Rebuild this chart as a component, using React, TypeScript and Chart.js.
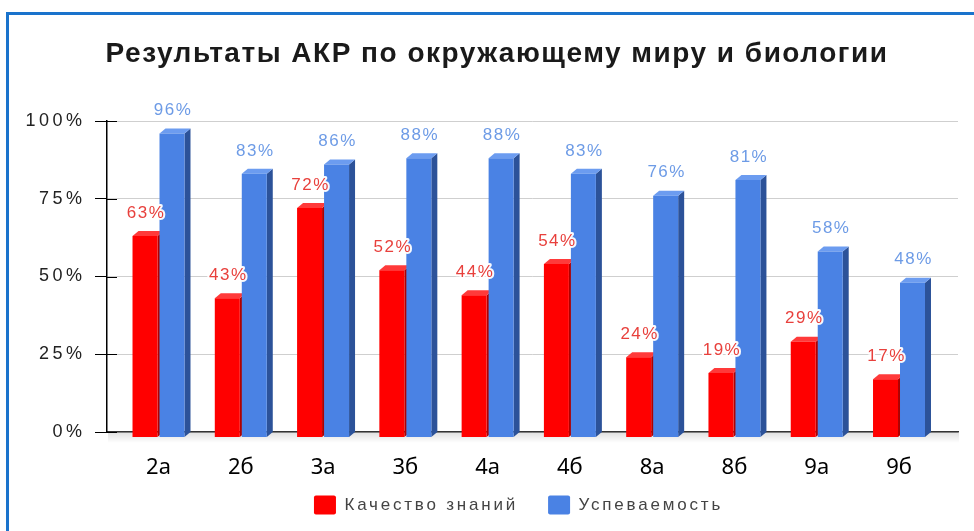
import React, { useEffect, useRef } from 'react';
import { Chart, registerables } from 'chart.js';

Chart.register(...registerables);

const titleText = 'Результаты АКР по окружающему миру и биологии';
const classes = ['2а', '2б', '3а', '3б', '4а', '4б', '8а', '8б', '9а', '9б'];
const seriesNames = ['Качество знаний', 'Успеваемость'];
const quality = [63, 43, 72, 52, 44, 54, 24, 19, 29, 17];
const progress = [96, 83, 86, 88, 88, 83, 76, 81, 58, 48];
const yTickValues = [0, 25, 50, 75, 100];

const frontColors = ['#ff0000', '#4a82e4'];
const sideColors = ['#b00000', '#2c5299'];
const topColors = ['#ff3a3a', '#6c9cf0'];
const labelColors = ['#e8403c', '#6d9be6'];

const DX = 6;
const DY = -5;
const LEGEND_SHIFT = -14;

function wrapSpacing(obj: any, method: string, spacing: string) {
  if (!obj || obj['__sp_' + method]) return;
  const orig = obj[method];
  obj[method] = function (...args: any[]) {
    const ctx = this.ctx || this.chart.ctx;
    const prev = ctx.letterSpacing;
    ctx.letterSpacing = spacing;
    const r = orig.apply(this, args);
    ctx.letterSpacing = prev;
    return r;
  };
  obj['__sp_' + method] = true;
}

const spacingPlugin = {
  id: 'spacing',
  beforeLayout(chart: any) { chart.ctx.letterSpacing = '2.8px'; },
  afterLayout(chart: any) {
    wrapSpacing(chart.titleBlock, 'draw', '1.5px');
    wrapSpacing(chart.legend, 'draw', '2.8px');
    wrapSpacing(chart.scales.y, 'drawLabels', '3.5px');
    wrapSpacing(chart.scales.x, 'drawLabels', '0px');
    if (chart.legend) {
      chart.legend.left += LEGEND_SHIFT;
      chart.legend.right += LEGEND_SHIFT;
    }
  },
};

const bar3dPlugin = {
  id: 'bar3d',
  beforeDatasetsDraw(chart: any) {
    const { ctx, chartArea } = chart;
    ctx.save();
    const g = ctx.createLinearGradient(0, chartArea.bottom, 0, chartArea.bottom + 11);
    g.addColorStop(0, 'rgba(0,0,0,0.13)');
    g.addColorStop(1, 'rgba(0,0,0,0)');
    ctx.fillStyle = g;
    ctx.fillRect(chartArea.left + 1, chartArea.bottom + 1, chartArea.right - chartArea.left, 11);
    chart.data.datasets.forEach((_ds: any, di: number) => {
      const meta = chart.getDatasetMeta(di);
      meta.data.forEach((el: any) => {
        const { x, y, base, width } = el.getProps(['x', 'y', 'base', 'width'], true);
        const l = x - width / 2;
        const r = x + width / 2;
        ctx.fillStyle = sideColors[di];
        ctx.beginPath();
        ctx.moveTo(r, y);
        ctx.lineTo(r + DX, y + DY);
        ctx.lineTo(r + DX, base + DY);
        ctx.lineTo(r, base);
        ctx.closePath();
        ctx.fill();
        ctx.fillStyle = topColors[di];
        ctx.beginPath();
        ctx.moveTo(l, y);
        ctx.lineTo(l + DX, y + DY);
        ctx.lineTo(r + DX, y + DY);
        ctx.lineTo(r, y);
        ctx.closePath();
        ctx.fill();
      });
    });
    ctx.restore();
  },
  afterDraw(chart: any) {
    const { ctx, chartArea } = chart;
    const yScale = chart.scales.y;
    ctx.save();
    ctx.strokeStyle = '#000';
    ctx.lineWidth = 1;
    yScale.ticks.forEach((t: any) => {
      const py = Math.round(yScale.getPixelForValue(t.value)) + 0.5;
      ctx.beginPath();
      ctx.moveTo(chartArea.left, py);
      ctx.lineTo(chartArea.left + 10, py);
      ctx.stroke();
    });
    ctx.letterSpacing = '1.5px';
    ctx.font = '17px "Liberation Sans", Arial, sans-serif';
    ctx.textAlign = 'center';
    ctx.textBaseline = 'middle';
    ctx.lineJoin = 'round';
    chart.data.datasets.forEach((ds: any, di: number) => {
      const meta = chart.getDatasetMeta(di);
      meta.data.forEach((el: any, i: number) => {
        const txt = ds.data[i].y + '%';
        const lx = el.x + 1;
        const ly = el.y - 23;
        ctx.strokeStyle = 'rgba(255,255,255,0.95)';
        ctx.lineWidth = 4;
        ctx.strokeText(txt, lx, ly);
        ctx.fillStyle = labelColors[di];
        ctx.fillText(txt, lx, ly);
      });
    });
    ctx.restore();
  },
};

export default function App() {
  const ref = useRef<HTMLCanvasElement | null>(null);

  useEffect(() => {
    if (!ref.current) return;
    Chart.defaults.font.family = '"Liberation Sans", Arial, sans-serif';
    const noClip = (s: any) => { s._computeLabelArea = () => undefined; };
    const chart = new Chart(ref.current, {
      type: 'bar',
      data: {
        datasets: [
          {
            label: seriesNames[0],
            data: classes.map((_, i) => ({ x: i, y: quality[i] })),
            backgroundColor: frontColors[0],
            borderWidth: 0,
            base: -1.6,
            clip: false,
            categoryPercentage: 0.656,
            barPercentage: 0.926,
          } as any,
          {
            label: seriesNames[1],
            data: classes.map((_, i) => ({ x: i, y: progress[i] })),
            backgroundColor: frontColors[1],
            borderWidth: 0,
            base: -1.6,
            clip: false,
            categoryPercentage: 0.656,
            barPercentage: 0.926,
          } as any,
        ],
      },
      options: {
        animation: false,
        responsive: false,
        maintainAspectRatio: false,
        layout: { padding: { top: 12, left: 36, right: 16, bottom: 6.5 } },
        plugins: {
          tooltip: { enabled: false },
          title: {
            display: true,
            text: titleText,
            color: '#1a1a1a',
            font: { size: 28, weight: 'bold' },
            padding: { top: 25.2, bottom: 50.2 },
          },
          legend: {
            display: true,
            position: 'bottom',
            fullSize: false,
            labels: {
              boxWidth: 22,
              boxHeight: 19,
              color: '#444',
              font: { size: 17 },
              padding: 30,
              useBorderRadius: true,
              borderRadius: 2,
            },
          },
        },
        scales: {
          x: {
            type: 'linear',
            offset: false,
            min: -0.626,
            max: 9.717,
            grid: { display: false, drawTicks: false },
            border: { display: true, color: '#333', width: 1.5 },
            afterSetDimensions: noClip,
            afterBuildTicks: (s: any) => {
              s.ticks = classes.map((_, i) => ({ value: i }));
            },
            afterFit: (s: any) => { s.height = 33.5; },
            ticks: {
              autoSkip: false,
              maxRotation: 0,
              padding: 22.5,
              color: '#000',
              font: { family: '"Noto Sans", sans-serif', size: 22 },
              callback: (v: any) => classes[Math.round(Number(v))] ?? '',
            },
          },
          y: {
            min: 0,
            max: 100,
            afterSetDimensions: noClip,
            afterBuildTicks: (s: any) => {
              s.ticks = yTickValues.map((v) => ({ value: v }));
            },
            afterFit: (s: any) => { s.width = 71; },
            grid: { color: '#cfcfcf', lineWidth: 1, tickLength: 12, tickColor: '#000' },
            border: { display: true, color: '#000', width: 1.5 },
            ticks: {
              padding: 9.5,
              color: '#222',
              font: { size: 18 },
              callback: (v: any) => v + '%',
            },
          },
        },
      } as any,
      plugins: [spacingPlugin, bar3dPlugin],
    });
    return () => chart.destroy();
  }, []);

  return (
    <div style={{ position: 'fixed', left: 0, top: 0, width: 974, height: 531, overflow: 'hidden', background: '#fff' }}>
      <div
        style={{
          position: 'absolute',
          left: 6,
          top: 12,
          width: 1000,
          height: 600,
          borderLeft: '3px solid #1a73cc',
          borderTop: '3px solid #1a73cc',
        }}
      />
      <canvas ref={ref} width={974} height={531} style={{ position: 'absolute', left: 0, top: 0, display: 'block' }} />
    </div>
  );
}
